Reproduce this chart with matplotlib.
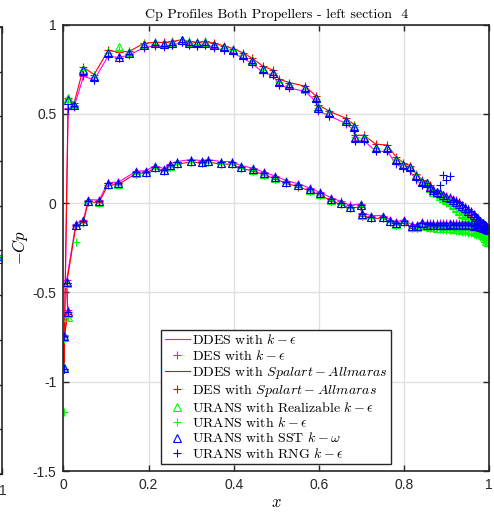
import numpy as np
import matplotlib
matplotlib.use("Agg")
import matplotlib.pyplot as plt

plt.rcParams['mathtext.fontset'] = 'cm'
plt.rcParams['axes.unicode_minus'] = False

# upper surface taps, leading edge -> trailing edge
x_up = [0.011, 0.025, 0.047, 0.072, 0.105, 0.130, 0.155, 0.189, 0.215, 0.236,
        0.256, 0.278, 0.296, 0.313, 0.333, 0.354, 0.377, 0.399, 0.423, 0.444,
        0.470, 0.493, 0.506, 0.530, 0.568, 0.593, 0.599, 0.624, 0.664, 0.683,
        0.684, 0.706, 0.734, 0.761, 0.781, 0.799, 0.814, 0.828, 0.843, 0.855,
        0.862, 0.869, 0.877, 0.885, 0.892, 0.900, 0.908, 0.916, 0.923, 0.930,
        0.937, 0.944, 0.951, 0.958, 0.964, 0.970, 0.975, 0.980, 0.985, 0.990,
        0.994, 0.998]

cp_up_ke = [0.53, 0.54, 0.71, 0.69, 0.823, 0.815, 0.83, 0.871, 0.88, 0.875,
            0.885, 0.90, 0.885, 0.88, 0.885, 0.87, 0.855, 0.84, 0.81, 0.78,
            0.73, 0.715, 0.66, 0.645, 0.625, 0.57, 0.515, 0.49, 0.445, 0.405,
            0.35, 0.35, 0.29, 0.29, 0.22, 0.195, 0.18, 0.13, 0.10, 0.09,
            0.075, 0.06, 0.055, 0.05, 0.045, 0.04, 0.032, 0.025, 0.015, 0.005,
            -0.008, -0.02, -0.035, -0.05, -0.065, -0.08, -0.09, -0.105, -0.115, -0.125,
            -0.133, -0.14]
cp_up_sa = [0.59, 0.56, 0.76, 0.72, 0.855, 0.845, 0.85, 0.895, 0.90, 0.90,
            0.905, 0.915, 0.905, 0.90, 0.905, 0.895, 0.88, 0.865, 0.84, 0.81,
            0.765, 0.745, 0.695, 0.675, 0.655, 0.60, 0.55, 0.515, 0.475, 0.44,
            0.38, 0.38, 0.33, 0.325, 0.26, 0.225, 0.21, 0.165, 0.13, 0.115,
            0.10, 0.075, 0.062, 0.05, 0.035, 0.02, 0.008, -0.005, -0.018, -0.03,
            -0.043, -0.055, -0.068, -0.08, -0.092, -0.105, -0.117, -0.13, -0.14, -0.15,
            -0.158, -0.165]
cp_up_rke = [0.59, 0.555, 0.75, 0.71, 0.845, 0.872, 0.845, 0.89, 0.895, 0.89,
             0.90, 0.915, 0.90, 0.895, 0.90, 0.885, 0.872, 0.857, 0.83, 0.80,
             0.75, 0.73, 0.68, 0.66, 0.64, 0.59, 0.54, 0.505, 0.465, 0.43,
             0.37, 0.37, 0.31, 0.31, 0.245, 0.215, 0.205, 0.155, 0.12, 0.11,
             0.085, 0.065, 0.055, 0.04, 0.03, 0.015, 0.005, -0.01, -0.025, -0.045,
             -0.06, -0.075, -0.088, -0.10, -0.118, -0.135, -0.15, -0.165, -0.18, -0.195,
             -0.21, -0.22]
cp_up_uke = [0.585, 0.55, 0.745, 0.705, 0.84, 0.86, 0.84, 0.885, 0.893, 0.888,
             0.898, 0.912, 0.897, 0.893, 0.897, 0.884, 0.87, 0.855, 0.828, 0.795,
             0.747, 0.728, 0.677, 0.66, 0.64, 0.585, 0.535, 0.502, 0.46, 0.425,
             0.37, 0.365, 0.31, 0.305, 0.24, 0.215, 0.20, 0.16, 0.12, 0.105,
             0.08, 0.06, 0.045, 0.03, 0.015, 0.0, -0.012, -0.025, -0.042, -0.06,
             -0.075, -0.09, -0.105, -0.12, -0.138, -0.155, -0.172, -0.19, -0.20, -0.215,
             -0.225, -0.235]
cp_up_sst = [0.58, 0.55, 0.745, 0.707, 0.842, 0.82, 0.842, 0.887, 0.894, 0.89,
             0.898, 0.913, 0.898, 0.894, 0.898, 0.885, 0.872, 0.857, 0.829, 0.797,
             0.749, 0.73, 0.679, 0.661, 0.642, 0.586, 0.534, 0.502, 0.461, 0.424,
             0.366, 0.366, 0.306, 0.306, 0.241, 0.213, 0.20, 0.153, 0.119, 0.11,
             0.09, 0.073, 0.064, 0.054, 0.045, 0.035, 0.026, 0.017, 0.005, -0.005,
             -0.018, -0.03, -0.042, -0.055, -0.066, -0.077, -0.088, -0.10, -0.11, -0.12,
             -0.13, -0.14]
cp_up_rng = [0.525, 0.545, 0.715, 0.69, 0.825, 0.81, 0.835, 0.875, 0.885, 0.88,
             0.888, 0.90, 0.888, 0.882, 0.887, 0.872, 0.857, 0.842, 0.812, 0.782,
             0.735, 0.718, 0.662, 0.648, 0.628, 0.572, 0.52, 0.49, 0.45, 0.41,
             0.35, 0.35, 0.29, 0.29, 0.225, 0.195, 0.185, 0.135, 0.10, 0.095,
             0.07, 0.065, 0.055, 0.101, 0.157, 0.129, 0.151, 0.02, 0.012, 0.004,
             -0.008, -0.02, -0.032, -0.045, -0.06, -0.075, -0.088, -0.10, -0.11, -0.12,
             -0.13, -0.14]

# lower surface taps, leading edge -> trailing edge
x_lo = [0.001, 0.002, 0.010, 0.0075, 0.029, 0.047, 0.058, 0.084, 0.104, 0.129,
        0.170, 0.194, 0.215, 0.237, 0.250, 0.267, 0.299, 0.325, 0.340, 0.370,
        0.395, 0.417, 0.445, 0.472, 0.497, 0.524, 0.552, 0.579, 0.603, 0.629,
        0.652, 0.673, 0.698, 0.702, 0.723, 0.752, 0.767, 0.781, 0.800, 0.818,
        0.830, 0.843, 0.855, 0.862, 0.869, 0.877, 0.885, 0.892, 0.900, 0.908,
        0.916, 0.923, 0.930, 0.937, 0.944, 0.951, 0.958, 0.964, 0.970, 0.975,
        0.980, 0.985, 0.990, 0.994, 0.998]

cp_lo_ke = [-0.93, -0.74, -0.60, -0.43, -0.115, -0.095, 0.02, 0.017, 0.115, 0.117,
            0.178, 0.182, 0.21, 0.192, 0.22, 0.233, 0.244, 0.238, 0.244, 0.233,
            0.232, 0.21, 0.196, 0.172, 0.152, 0.126, 0.108, 0.084, 0.06, 0.03,
            0.01, -0.012, -0.004, -0.055, -0.07, -0.07, -0.092, -0.106, -0.092, -0.12,
            -0.12, -0.105, -0.11, -0.112, -0.111, -0.112, -0.113, -0.112, -0.111, -0.112,
            -0.112, -0.113, -0.112, -0.113, -0.113, -0.114, -0.115, -0.116, -0.118, -0.12,
            -0.122, -0.126, -0.13, -0.135, -0.14]
cp_lo_sa = [-0.93, -0.75, -0.62, -0.45, -0.13, -0.105, 0.005, 0.005, 0.10, 0.105,
            0.165, 0.17, 0.195, 0.18, 0.205, 0.218, 0.23, 0.225, 0.23, 0.218,
            0.218, 0.195, 0.18, 0.158, 0.136, 0.11, 0.092, 0.068, 0.045, 0.013,
            -0.007, -0.03, -0.02, -0.07, -0.085, -0.085, -0.107, -0.122, -0.11, -0.14,
            -0.14, -0.13, -0.135, -0.138, -0.139, -0.14, -0.14, -0.141, -0.14, -0.14,
            -0.141, -0.14, -0.141, -0.142, -0.143, -0.144, -0.145, -0.147, -0.148, -0.15,
            -0.152, -0.155, -0.158, -0.161, -0.165]
cp_lo_rke = [-0.92, -0.75, -0.636, -0.45, -0.125, -0.10, 0.01, 0.008, 0.105, 0.108,
             0.17, 0.173, 0.2, 0.183, 0.21, 0.224, 0.235, 0.229, 0.235, 0.224,
             0.224, 0.2, 0.187, 0.164, 0.143, 0.117, 0.099, 0.075, 0.052, 0.02,
             0.0, -0.023, -0.013, -0.064, -0.079, -0.079, -0.101, -0.116, -0.101, -0.131,
             -0.132, -0.12, -0.13, -0.135, -0.136, -0.138, -0.139, -0.14, -0.141, -0.142,
             -0.143, -0.145, -0.146, -0.148, -0.15, -0.152, -0.155, -0.158, -0.162, -0.165,
             -0.17, -0.175, -0.18, -0.183, -0.185]
cp_lo_uke = [-1.17, -0.76, -0.64, -0.46, -0.22, -0.11, 0.005, 0.0, 0.10, 0.10,
             0.165, 0.168, 0.195, 0.178, 0.205, 0.22, 0.23, 0.225, 0.23, 0.22,
             0.22, 0.196, 0.183, 0.16, 0.138, 0.112, 0.094, 0.07, 0.048, 0.016,
             -0.004, -0.027, -0.017, -0.068, -0.083, -0.083, -0.105, -0.12, -0.106, -0.136,
             -0.138, -0.126, -0.136, -0.14, -0.142, -0.145, -0.146, -0.148, -0.15, -0.152,
             -0.153, -0.156, -0.158, -0.16, -0.162, -0.165, -0.168, -0.172, -0.176, -0.18,
             -0.184, -0.19, -0.194, -0.197, -0.20]
cp_lo_sst = [-0.925, -0.745, -0.61, -0.44, -0.123, -0.10, 0.013, 0.010, 0.108, 0.110,
             0.172, 0.175, 0.203, 0.185, 0.213, 0.226, 0.237, 0.231, 0.237, 0.226,
             0.226, 0.203, 0.189, 0.166, 0.145, 0.119, 0.101, 0.077, 0.054, 0.022,
             0.002, -0.021, -0.011, -0.062, -0.077, -0.077, -0.099, -0.114, -0.099, -0.129,
             -0.129, -0.114, -0.12, -0.122, -0.121, -0.123, -0.122, -0.12, -0.121, -0.119,
             -0.12, -0.121, -0.12, -0.122, -0.121, -0.123, -0.124, -0.126, -0.128, -0.13,
             -0.133, -0.137, -0.141, -0.145, -0.148]
cp_lo_rng = [-0.93, -0.745, -0.61, -0.445, -0.125, -0.10, 0.013, 0.01, 0.11, 0.112,
             0.174, 0.177, 0.205, 0.187, 0.215, 0.228, 0.239, 0.233, 0.239, 0.228,
             0.228, 0.205, 0.19, 0.167, 0.146, 0.12, 0.102, 0.078, 0.055, 0.023,
             0.003, -0.02, -0.01, -0.06, -0.075, -0.076, -0.098, -0.112, -0.098, -0.127,
             -0.127, -0.112, -0.118, -0.12, -0.119, -0.121, -0.12, -0.12, -0.121, -0.12,
             -0.119, -0.12, -0.121, -0.122, -0.122, -0.124, -0.125, -0.127, -0.129, -0.132,
             -0.135, -0.139, -0.143, -0.147, -0.15]

# trailing-edge values of the neighbouring panel
x_side = [0.99, 1.0]
cp_side = [-0.28, -0.30]

labels = [r'DDES with $k-\epsilon$',
          r'DES with $k-\epsilon$',
          r'DDES with $Spalart-Allmaras$',
          r'DES with $Spalart-Allmaras$',
          r'URANS with Realizable $k-\epsilon$',
          r'URANS with $k-\epsilon$',
          r'URANS with SST $k-\omega$',
          r'URANS with RNG $k-\epsilon$']


def loop(up, lo):
    # trailing edge (upper) -> leading edge -> trailing edge (lower)
    return np.concatenate([np.asarray(up)[::-1], np.asarray(lo)])


xx = loop(x_up, x_lo)
dark = '#262626'
sans = 'Liberation Sans'
serif = 'cmr10'
ms = 5.2

fig = plt.figure(figsize=(4.94, 5.15), dpi=100)

# neighbouring panel, only its right edge shows
ax0 = fig.add_axes([-0.85, 0.0796, 0.855, 0.868])
ax0.plot(x_side, cp_side, '^', color='#0000ff', mfc='none', ms=ms, mew=0.8)
ax0.plot(x_side, cp_side, '+', color='#00ff00', ms=ms, mew=0.8)
ax0.set_xlim(0, 1)
ax0.set_ylim(-1.5, 1)
ax0.set_xticks(np.arange(0, 1.01, 0.2))
ax0.set_xticklabels(['', '', '', '', '', '1'], fontfamily=sans, fontsize=10, color=dark)
ax0.set_yticks(np.arange(-1.5, 1.01, 0.25))
ax0.set_yticklabels([])
ax0.tick_params(direction='in', length=4, width=1, color=dark, top=True, right=True, pad=7)
for s in ax0.spines.values():
    s.set_color(dark)
    s.set_linewidth(1.2)

ax = fig.add_axes([0.1285, 0.0854, 0.8614, 0.867])

ax.plot(xx, loop(cp_up_ke, cp_lo_ke), '-', color='#ff00ff', lw=0.8, label=labels[0])
ax.plot(xx, loop(cp_up_ke, cp_lo_ke), '+', color='#ff00ff', ms=ms, mew=0.8, label=labels[1])
ax.plot(xx, loop(cp_up_sa, cp_lo_sa), '-', color='#ff0000', lw=0.8, label=labels[2])
ax.plot(xx, loop(cp_up_sa, cp_lo_sa), '+', color='#ff0000', ms=ms, mew=0.8, label=labels[3])
ax.plot(xx, loop(cp_up_rke, cp_lo_rke), '^', color='#00ff00', mfc='none', ms=ms, mew=0.8, label=labels[4])
ax.plot(xx, loop(cp_up_uke, cp_lo_uke), '+', color='#00ff00', ms=ms, mew=0.8, label=labels[5])
ax.plot(xx, loop(cp_up_sst, cp_lo_sst), '^', color='#0000ff', mfc='none', ms=ms, mew=0.8, label=labels[6])
ax.plot(xx, loop(cp_up_rng, cp_lo_rng), '+', color='#0000ff', ms=ms, mew=0.8, label=labels[7])

ax.set_xlim(0, 1)
ax.set_ylim(-1.5, 1)
ax.set_xticks(np.arange(0, 1.01, 0.2))
ax.set_xticklabels(['0', '0.2', '0.4', '0.6', '0.8', '1'])
ax.set_yticks(np.arange(-1.5, 1.01, 0.5))
ax.set_yticklabels(['-1.5', '-1', '-0.5', '0', '0.5', '1'])
for t in ax.get_xticklabels() + ax.get_yticklabels():
    t.set_fontfamily(sans)
    t.set_fontsize(10)
    t.set_color(dark)
ax.tick_params(direction='in', length=4, width=1, color=dark, top=True, right=True, pad=5)
ax.grid(True, color='#e0e0e0', lw=1)
ax.set_axisbelow(True)
for s in ax.spines.values():
    s.set_color(dark)
    s.set_linewidth(1.2)

ax.set_title('Cp Profiles Both Propellers - left section  4', fontfamily=serif, fontsize=10, pad=5)
ax.set_xlabel('$x$', fontsize=12, labelpad=1)
ax.set_ylabel('$-Cp$', fontsize=12, labelpad=2)

leg = ax.legend(loc='lower center', bbox_to_anchor=(0.5, 0.015), prop={'family': serif, 'size': 10},
                frameon=True, fancybox=False, framealpha=1, edgecolor=dark,
                handlelength=1.85, handletextpad=0.15, labelspacing=0.1, borderpad=0.25,
                borderaxespad=0)
leg.get_frame().set_linewidth(1.0)

fig.savefig('out.png', dpi=100)
